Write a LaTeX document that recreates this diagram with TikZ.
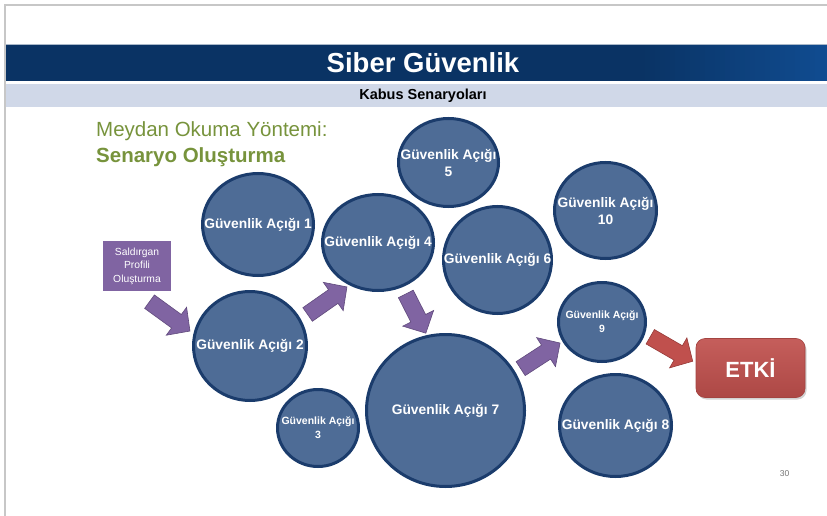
\documentclass[tikz,border=0pt]{standalone}
\usepackage{fontspec}
\setmainfont{Liberation Sans}
\usetikzlibrary{shapes.geometric,shapes.arrows,shadows}
\definecolor{navy}{RGB}{10,51,100}
\definecolor{navylight}{RGB}{16,76,145}
\definecolor{subgray}{RGB}{208,216,232}
\definecolor{circfill}{RGB}{78,108,150}
\definecolor{circline}{RGB}{27,60,108}
\definecolor{purp}{RGB}{128,100,162}
\definecolor{purpline}{RGB}{96,74,124}
\definecolor{etkired}{RGB}{192,80,77}
\definecolor{etkiline}{RGB}{150,58,56}
\definecolor{olive}{RGB}{119,147,60}
\begin{document}
\begin{tikzpicture}[x=1pt,y=-1pt,
  vuln/.style={ellipse, draw=circline, line width=3pt, fill=circfill, inner sep=0pt},
  vtext/.style={text=white, font=\bfseries\fontsize{13.8}{17}\selectfont, align=center, inner sep=0pt},
  smalltext/.style={vtext, font=\bfseries\fontsize{10.5}{14}\selectfont},
  blockarrow/.style={single arrow, draw=purpline, line width=0.6pt, fill=purp, inner xsep=0pt, inner ysep=8pt,
     minimum width=34pt, single arrow head extend=9pt, single arrow tip angle=92},
  redarrow/.style={blockarrow, fill=etkired, draw=etkiline}
]
\useasboundingbox (0,0) rectangle (827,516);
% page frame
\draw[black!22, line width=1.5pt] (5,516) -- (5,5) -- (827,5);
% header band with a light gradient towards the right end
\fill[navy] (6,44) rectangle (827,81);
\foreach \i in {0,...,37}{
  \pgfmathsetmacro{\pct}{100*\i/37}
  \fill[navylight!\pct!navy] ({640+5*\i},44) rectangle ({646+5*\i},81);
}
\draw[white!65!navy, line width=0.8pt] (6,44.4) -- (827,44.4);
\fill[subgray] (6,84) rectangle (827,107);
\node[text=white, font=\bfseries\fontsize{27.5}{30}\selectfont] (title) at (423,62.5) {Siber Güvenlik};
\node[font=\bfseries\fontsize{14.5}{16}\selectfont] (subtitle) at (423,96) {Kabus Senaryoları};
% heading text
\node[anchor=west, text=olive, font=\fontsize{20.5}{24}\selectfont, inner sep=0pt] (h1) at (96,131) {Meydan Okuma Yöntemi:};
\node[anchor=west, text=olive, font=\bfseries\fontsize{20.5}{24}\selectfont, inner sep=0pt] (h2) at (96,157) {Senaryo Oluşturma};
% attacker profile box
\node[fill=purp, minimum width=68pt, minimum height=50pt, inner sep=0pt, text=white, align=center,
      font=\fontsize{10.3}{13.5}\selectfont] (profile) at (137,266) {Saldırgan\\Profili\\Oluşturma};
% circles
\node[vuln, minimum width=111pt, minimum height=102pt, label={[vtext]center:Güvenlik Açığı 1}] (ga1) at (258,224.5) {};
\node[vuln, minimum width=113pt, minimum height=109pt, label={[vtext]center:Güvenlik Açığı 2}] (ga2) at (250,346) {};
\node[vuln, minimum width=81pt, minimum height=77pt, label={[smalltext]center:Güvenlik Açığı\\3}] (ga3) at (318,428) {};
\node[vuln, minimum width=111pt, minimum height=96pt, label={[vtext]center:Güvenlik Açığı 4}] (ga4) at (378,242.5) {};
\node[vuln, minimum width=100pt, minimum height=88pt, label={[vtext]center:Güvenlik Açığı\\5}] (ga5) at (448.5,162.5) {};
\node[vuln, minimum width=108pt, minimum height=107pt, label={[vtext]center:Güvenlik Açığı 6}] (ga6) at (497.5,260) {};
\node[vuln, minimum width=158pt, minimum height=152pt, label={[vtext]center:Güvenlik Açığı 7}] (ga7) at (445.5,410.5) {};
\node[vuln, minimum width=112pt, minimum height=102pt, label={[vtext]center:Güvenlik Açığı 8}] (ga8) at (615.5,425.5) {};
\node[vuln, minimum width=87pt, minimum height=79pt, label={[smalltext]center:Güvenlik Açığı\\9}] (ga9) at (602,322) {};
\node[vuln, minimum width=102pt, minimum height=96pt, label={[vtext]center:Güvenlik Açığı\\10}] (ga10) at (605.5,210.5) {};
% ETKI box
\node[rounded corners=9pt, top color=etkired!92!white, bottom color=etkired!90!black, draw=etkired!85!black,
      line width=0.6pt, minimum width=109pt, minimum height=59pt, text=white,
      font=\bfseries\fontsize{22}{24}\selectfont,
      drop shadow={shadow xshift=1.5pt, shadow yshift=-2pt, opacity=0.35}] (etki) at (750.5,368) {ETKİ};
% block arrows
\node[blockarrow, minimum height=50pt, rotate=-36] (a1) at (166.5,314) {};
\node[blockarrow, minimum height=48pt, rotate=35] (a2) at (324,303) {};
\node[blockarrow, minimum height=44pt, rotate=-63] (a3) at (414,310) {};
\node[blockarrow, minimum height=47pt, rotate=33] (a4) at (537,358) {};
\node[redarrow, minimum height=49pt, rotate=-30] (a5) at (668,347) {};
% page number
\node[text=black!55, font=\fontsize{8.5}{10}\selectfont] (pnum) at (784.5,473.5) {30};
\end{tikzpicture}
\end{document}
